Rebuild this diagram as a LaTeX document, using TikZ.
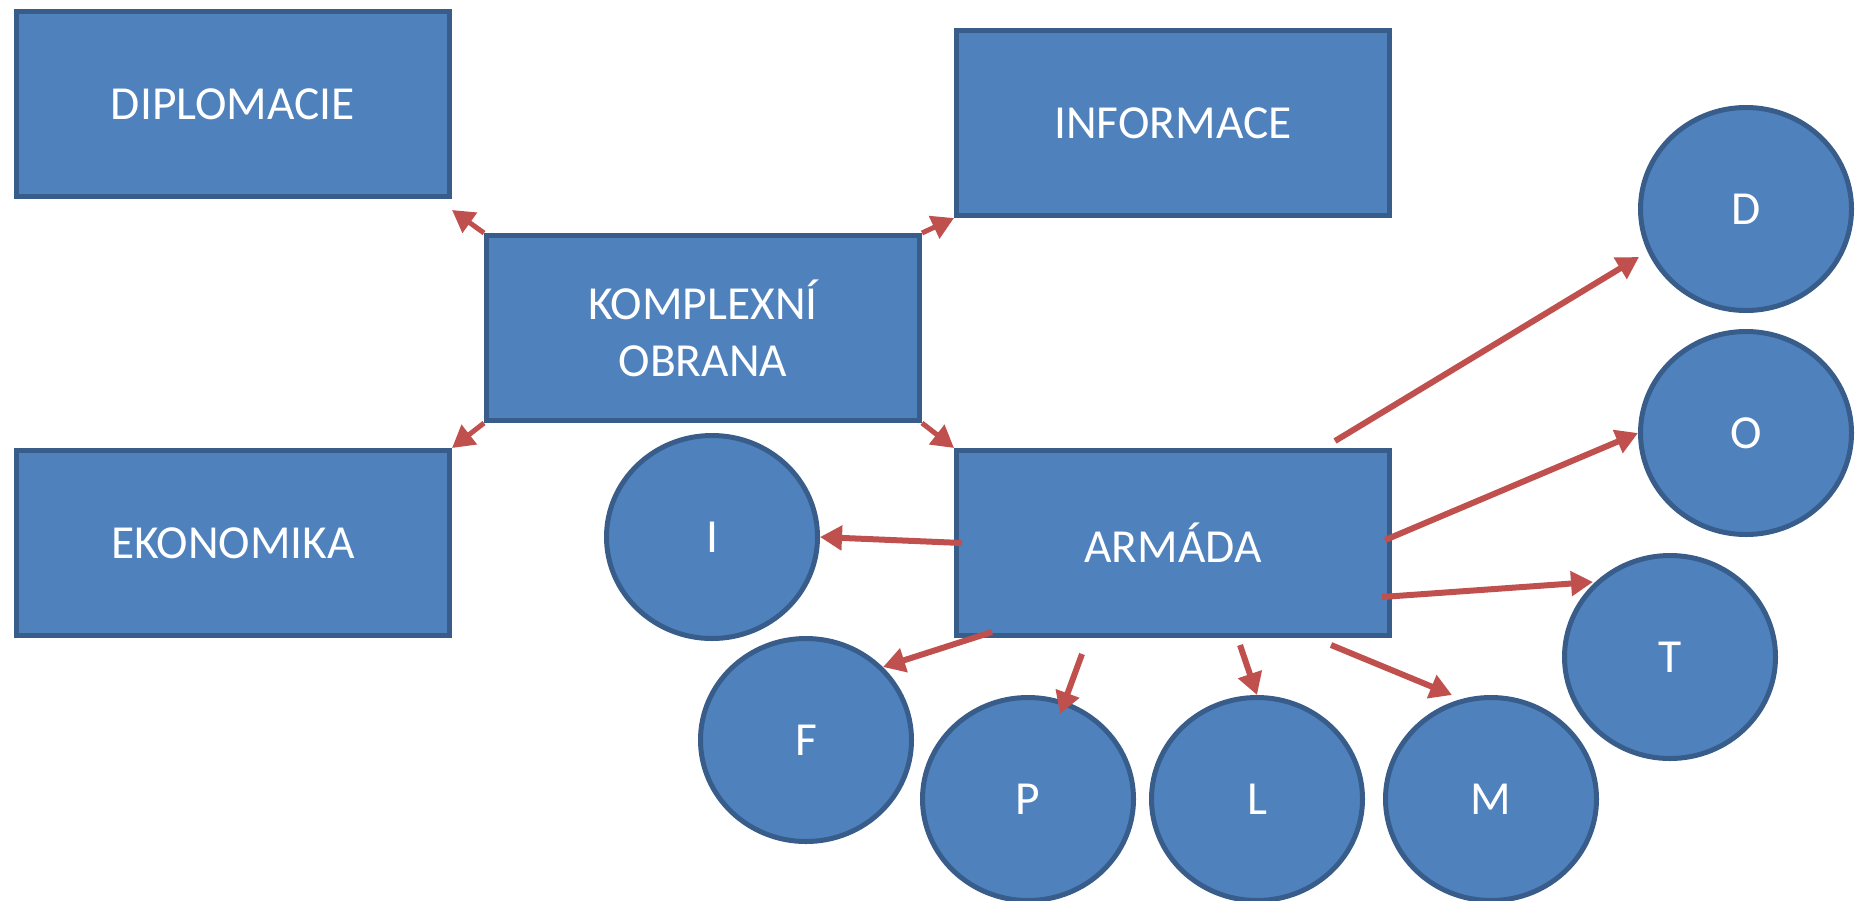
\documentclass[tikz,border=0pt]{standalone}
\usepackage{fontspec}
\setmainfont{Carlito}
\usetikzlibrary{shapes.geometric, arrows.meta, calc}
\definecolor{vypln}{HTML}{4F81BD}
\definecolor{okraj}{HTML}{385D8A}
\definecolor{cervena}{HTML}{C0504D}
\tikzset{
  blok/.style={rectangle, draw=okraj, fill=vypln, line width=1mm, text=white,
    minimum width=86.6mm, minimum height=37mm, align=center,
    font=\fontsize{27}{32.4}\selectfont},
  kruh/.style={ellipse, draw=okraj, fill=vypln, line width=1mm, text=white,
    inner sep=0pt, minimum width=42.2mm, minimum height=40.6mm,
    font=\fontsize{27}{32.4}\selectfont},
  sipka/.style={draw=cervena, line width=1.2mm, -{Triangle[length=4.4mm,width=4.8mm]}}
}
\begin{document}
\begin{tikzpicture}[x=0.2mm,y=-0.2mm]
\useasboundingbox (0,0) rectangle (1856,900);
% boxes
\node[blok] (diplomacie) at (233,104) {DIPLOMACIE};
\node[blok] (informace) at (1173,123) {INFORMACE};
\node[blok] (komplex) at (703,328) {KOMPLEXNÍ\\OBRANA};
\node[blok] (ekonomika) at (233,543) {EKONOMIKA};
\node[blok] (armada) at (1173,543) {ARMÁDA};
% circles
\node[kruh] (circI) at (712,537) {I};
\node[kruh] (circD) at (1746,209) {D};
\node[kruh] (circO) at (1746,433) {O};
\node[kruh] (circT) at (1670,657) {T};
\node[kruh] (circF) at (806,740) {F};
\node[kruh] (circP) at (1028,799) {P};
\node[kruh] (circL) at (1257,799) {L};
\node[kruh] (circM) at (1491,799) {M};
% arrows from the middle box
\draw[sipka, line width=1mm] (komplex.north west) -- ($(diplomacie.south east)+(0,11)$);
\draw[sipka, line width=1mm] (komplex.north east) -- (informace.south west);
\draw[sipka, line width=1mm] (komplex.south west) -- (ekonomika.north east);
\draw[sipka, line width=1mm] (komplex.south east) -- (armada.north west);
% arrows from ARMADA
\draw[sipka] ($(armada)+(-211,0)$) -- (circI.east);
\draw[sipka] ($(armada)+(162,-102)$) -- ($(circD)+(-107,48)$);
\draw[sipka] ($(armada)+(212,-3)$) -- (circO.west);
\draw[sipka] ($(armada)+(209,54)$) -- ($(circT)+(-77,-75)$);
\draw[sipka] ($(armada)+(158,102)$) -- ($(circM)+(-39,-104)$);
\draw[sipka] ($(armada)+(67,102)$) -- (circL.north);
\draw[sipka] ($(armada)+(-91,111)$) -- ($(circP)+(32,-85)$);
\draw[sipka] ($(armada)+(-181,89)$) -- ($(circF)+(77,-73)$);
\end{tikzpicture}
\end{document}
